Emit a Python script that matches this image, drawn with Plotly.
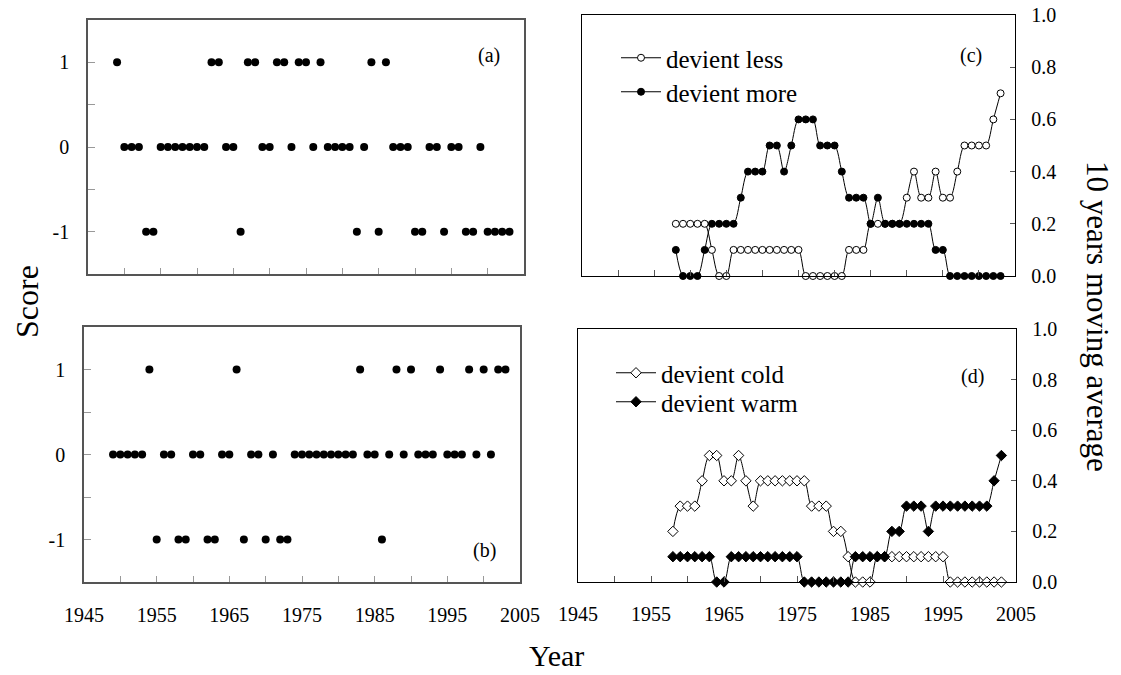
import plotly.graph_objects as go

# ---------------- data ----------------
years_ab = [1949, 1950, 1951, 1952, 1953, 1954, 1955, 1956, 1957, 1958,
            1959, 1960, 1961, 1962, 1963, 1964, 1965, 1966, 1967, 1968,
            1969, 1970, 1971, 1972, 1973, 1974, 1975, 1976, 1977, 1978,
            1979, 1980, 1981, 1982, 1983, 1984, 1985, 1986, 1987, 1988,
            1989, 1990, 1991, 1992, 1993, 1994, 1995, 1996, 1997, 1998,
            1999, 2000, 2001, 2002, 2003]

score_a = [1, 0, 0, 0, -1, -1, 0, 0, 0, 0,
           0, 0, 0, 1, 1, 0, 0, -1, 1, 1,
           0, 0, 1, 1, 0, 1, 1, 0, 1, 0,
           0, 0, 0, -1, 0, 1, -1, 1, 0, 0,
           0, -1, -1, 0, 0, -1, 0, 0, -1, -1,
           0, -1, -1, -1, -1]

score_b = [0, 0, 0, 0, 0, 1, -1, 0, 0, -1,
           -1, 0, 0, -1, -1, 0, 0, 1, -1, 0,
           0, -1, 0, -1, -1, 0, 0, 0, 0, 0,
           0, 0, 0, 0, 1, 0, 0, -1, 0, 1,
           0, 1, 0, 0, 0, 1, 0, 0, 0, 1,
           0, 1, 0, 1, 1]

years_cd = [1958, 1959, 1960, 1961, 1962, 1963, 1964, 1965, 1966, 1967,
            1968, 1969, 1970, 1971, 1972, 1973, 1974, 1975, 1976, 1977,
            1978, 1979, 1980, 1981, 1982, 1983, 1984, 1985, 1986, 1987,
            1988, 1989, 1990, 1991, 1992, 1993, 1994, 1995, 1996, 1997,
            1998, 1999, 2000, 2001, 2002, 2003]

devient_less = [0.2, 0.2, 0.2, 0.2, 0.2, 0.1, 0.0, 0.0, 0.1, 0.1,
                0.1, 0.1, 0.1, 0.1, 0.1, 0.1, 0.1, 0.1, 0.0, 0.0,
                0.0, 0.0, 0.0, 0.0, 0.1, 0.1, 0.1, 0.2, 0.2, 0.2,
                0.2, 0.2, 0.3, 0.4, 0.3, 0.3, 0.4, 0.3, 0.3, 0.4,
                0.5, 0.5, 0.5, 0.5, 0.6, 0.7]

devient_more = [0.1, 0.0, 0.0, 0.0, 0.1, 0.2, 0.2, 0.2, 0.2, 0.3,
                0.4, 0.4, 0.4, 0.5, 0.5, 0.4, 0.5, 0.6, 0.6, 0.6,
                0.5, 0.5, 0.5, 0.4, 0.3, 0.3, 0.3, 0.2, 0.3, 0.2,
                0.2, 0.2, 0.2, 0.2, 0.2, 0.2, 0.1, 0.1, 0.0, 0.0,
                0.0, 0.0, 0.0, 0.0, 0.0, 0.0]

devient_cold = [0.2, 0.3, 0.3, 0.3, 0.4, 0.5, 0.5, 0.4, 0.4, 0.5,
                0.4, 0.3, 0.4, 0.4, 0.4, 0.4, 0.4, 0.4, 0.4, 0.3,
                0.3, 0.3, 0.2, 0.2, 0.1, 0.0, 0.0, 0.0, 0.1, 0.1,
                0.1, 0.1, 0.1, 0.1, 0.1, 0.1, 0.1, 0.1, 0.0, 0.0,
                0.0, 0.0, 0.0, 0.0, 0.0, 0.0]

devient_warm = [0.1, 0.1, 0.1, 0.1, 0.1, 0.1, 0.0, 0.0, 0.1, 0.1,
                0.1, 0.1, 0.1, 0.1, 0.1, 0.1, 0.1, 0.1, 0.0, 0.0,
                0.0, 0.0, 0.0, 0.0, 0.0, 0.1, 0.1, 0.1, 0.1, 0.1,
                0.2, 0.2, 0.3, 0.3, 0.3, 0.2, 0.3, 0.3, 0.3, 0.3,
                0.3, 0.3, 0.3, 0.3, 0.4, 0.5]

x_ticks = [1945, 1950, 1955, 1960, 1965, 1970, 1975, 1980, 1985, 1990, 1995, 2000, 2005]
x_labels = ['1945', '', '1955', '', '1965', '', '1975', '', '1985', '', '1995', '', '2005']
score_ticks = [-1, -0.5, 0, 0.5, 1]
score_labels = ['-1', '', '0', '', '1']
avg_ticks = [0.0, 0.2, 0.4, 0.6, 0.8, 1.0]

# ---------------- figure ----------------
W, H = 1121, 675
FONT = 'Liberation Serif, Times New Roman, serif'


def px(x):
    return x / W


def py(y):
    return 1 - y / H


fig = go.Figure()

fig.add_trace(go.Scatter(x=years_ab, y=score_a, mode='markers', xaxis='x', yaxis='y',
                         marker=dict(color='black', size=8), showlegend=False, cliponaxis=False))
fig.add_trace(go.Scatter(x=years_ab, y=score_b, mode='markers', xaxis='x3', yaxis='y3',
                         marker=dict(color='black', size=8), showlegend=False, cliponaxis=False))

line_style = dict(color='black', width=1, shape='spline', smoothing=0.9)

fig.add_trace(go.Scatter(x=years_cd, y=devient_less, mode='lines+markers', name='devient less',
                         xaxis='x2', yaxis='y2', line=line_style, cliponaxis=False,
                         marker=dict(symbol='circle', size=7, color='white',
                                     line=dict(color='black', width=1)),
                         legend='legend'))
fig.add_trace(go.Scatter(x=years_cd, y=devient_more, mode='lines+markers', name='devient more',
                         xaxis='x2', yaxis='y2', line=line_style, cliponaxis=False,
                         marker=dict(symbol='circle', size=7, color='black',
                                     line=dict(color='black', width=1)),
                         legend='legend2'))
fig.add_trace(go.Scatter(x=years_cd, y=devient_cold, mode='lines+markers', name='devient cold',
                         xaxis='x4', yaxis='y4', line=line_style, cliponaxis=False,
                         marker=dict(symbol='diamond', size=8, color='white',
                                     line=dict(color='black', width=1)),
                         legend='legend3'))
fig.add_trace(go.Scatter(x=years_cd, y=devient_warm, mode='lines+markers', name='devient warm',
                         xaxis='x4', yaxis='y4', line=line_style, cliponaxis=False,
                         marker=dict(symbol='diamond', size=8, color='black',
                                     line=dict(color='black', width=1)),
                         legend='legend4'))

left_line = dict(showline=True, mirror=True, linecolor='#555555', linewidth=1.5,
                 showgrid=False, zeroline=False, ticks='inside', tickcolor='#999999',
                 automargin=False,
                 tickfont=dict(family=FONT, size=20, color='black'))
right_line = dict(showline=True, mirror=True, linecolor='black', linewidth=1.3,
                  showgrid=False, zeroline=False, ticks='inside', tickcolor='#555555',
                  automargin=False,
                  tickfont=dict(family=FONT, size=20, color='black'))


def leg(x, y):
    return dict(x=px(x), y=py(y), xanchor='left', yanchor='middle',
                bgcolor='rgba(0,0,0,0)', borderwidth=0,
                font=dict(family=FONT, size=25, color='black'),
                itemwidth=40)


fig.update_layout(
    width=W, height=H,
    margin=dict(l=0, r=0, t=0, b=0, pad=0, autoexpand=False),
    paper_bgcolor='white', plot_bgcolor='white',
    font=dict(family=FONT, color='black'),
    xaxis=dict(domain=[px(88), px(524)], range=[1945, 2005], anchor='y',
               tickvals=x_ticks, ticktext=[''] * len(x_ticks), ticklen=6, **left_line),
    yaxis=dict(domain=[py(274), py(20)], range=[-1.5, 1.5], anchor='x',
               tickvals=score_ticks, ticktext=score_labels, ticklen=7,
               ticklabelstandoff=13, **left_line),
    xaxis3=dict(domain=[px(84), px(520)], range=[1945, 2005], anchor='y3',
                tickvals=x_ticks, ticktext=x_labels, ticklen=6,
                ticklabelstandoff=14, **left_line),
    yaxis3=dict(domain=[py(582), py(327)], range=[-1.5, 1.5], anchor='x3',
                tickvals=score_ticks, ticktext=score_labels, ticklen=7,
                ticklabelstandoff=13, **left_line),
    xaxis2=dict(domain=[px(582), px(1015)], range=[1945, 2005], anchor='y2',
                tickvals=x_ticks, ticktext=[''] * len(x_ticks), ticklen=6, **right_line),
    yaxis2=dict(domain=[py(276), py(15)], range=[0, 1], anchor='x2', side='right',
                tickvals=avg_ticks, tickformat='.1f', ticklen=5,
                ticklabelstandoff=11, **right_line),
    xaxis4=dict(domain=[px(578), px(1016)], range=[1945, 2005], anchor='y4',
                tickvals=x_ticks, ticktext=x_labels, ticklen=6,
                ticklabelstandoff=14, **right_line),
    yaxis4=dict(domain=[py(582), py(329)], range=[0, 1], anchor='x4', side='right',
                tickvals=avg_ticks, tickformat='.1f', ticklen=5,
                ticklabelstandoff=11, **right_line),
    legend=leg(616, 58),
    legend2=leg(616, 92),
    legend3=leg(611, 373),
    legend4=leg(611, 402),
)

annotations = [
    dict(text='(a)', x=px(489), y=py(56)),
    dict(text='(b)', x=px(484), y=py(550)),
    dict(text='(c)', x=px(971), y=py(56)),
    dict(text='(d)', x=px(972), y=py(376)),
]
for a in annotations:
    fig.add_annotation(xref='paper', yref='paper', showarrow=False,
                       xanchor='center', yanchor='middle',
                       font=dict(family=FONT, size=20, color='black'), **a)

fig.add_annotation(text='Score', xref='paper', yref='paper', x=px(27), y=py(302),
                   showarrow=False, textangle=-90, xanchor='center', yanchor='middle',
                   font=dict(family=FONT, size=32, color='black'))
fig.add_annotation(text='Year', xref='paper', yref='paper', x=px(556), y=py(655),
                   showarrow=False, xanchor='center', yanchor='middle',
                   font=dict(family=FONT, size=30, color='black'))
fig.add_annotation(text='10 years moving average', xref='paper', yref='paper',
                   x=px(1098), y=py(316), showarrow=False, textangle=90,
                   xanchor='center', yanchor='middle',
                   font=dict(family=FONT, size=31, color='black'))

fig.write_html('out.html', config={'displayModeBar': False},
               post_script="document.body.style.margin='0';document.body.style.padding='0';")
